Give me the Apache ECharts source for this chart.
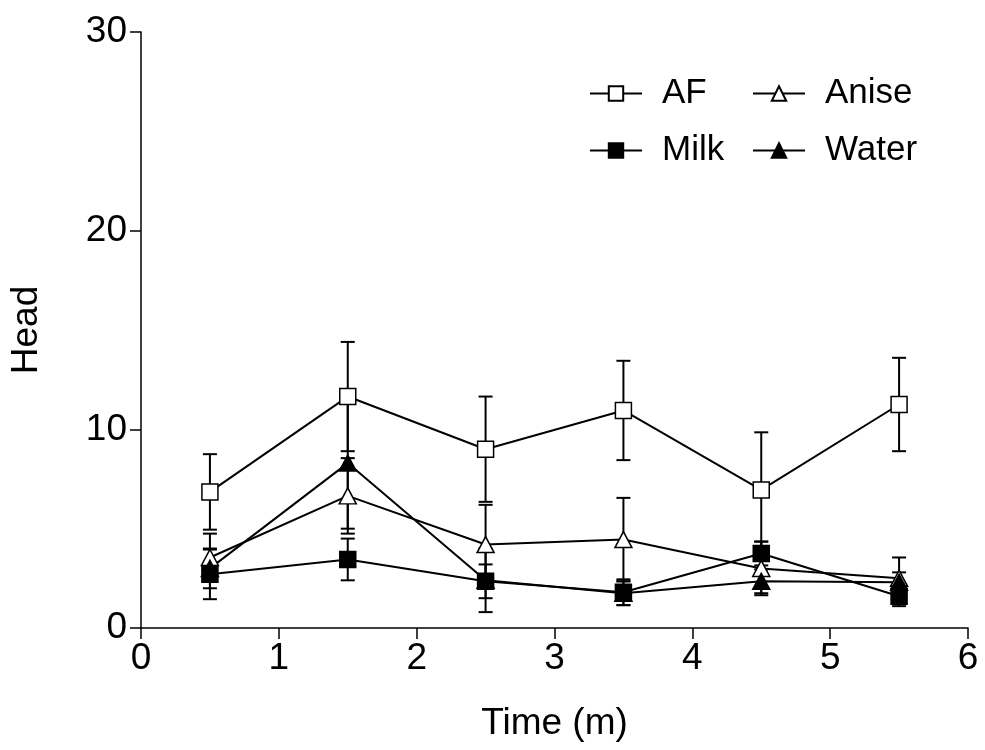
<!DOCTYPE html>
<html>
<head>
<meta charset="utf-8">
<script src="https://cdn.jsdelivr.net/npm/echarts/dist/echarts.min.js"></script>
<style>
  html, body { margin: 0; padding: 0; background: #fff; }
  #main { width: 985px; height: 750px; }
</style>
</head>
<body>
<div id="main"></div>
<script>
// time points (m)
var times = [0.5, 1.5, 2.5, 3.5, 4.5, 5.5];

// means
var afMean    = [6.85, 11.65, 9.0, 10.95, 6.95, 11.25];
var aniseMean = [3.55, 6.65, 4.2, 4.45, 3.0, 2.5];
var milkMean  = [2.7, 3.45, 2.35, 1.8, 3.75, 1.6];
var waterMean = [3.0, 8.3, 2.4, 1.75, 2.35, 2.3];

// error bar half lengths
var afErr    = [1.9, 2.75, 2.65, 2.5, 2.9, 2.35];
var aniseErr = [1.2, 1.9, 2.0, 2.1, 1.35, 1.05];
var milkErr  = [1.25, 1.05, 0.85, 0.65, 0.6, 0.5];
var waterErr = [1.0, 3.3, 1.6, 0.6, 0.6, 0.5];

var xTicks = [0, 1, 2, 3, 4, 5, 6];
var yTicks = [0, 10, 20, 30];

var FONT = 'Liberation Sans';

function pts(mean) {
  return times.map(function (t, i) { return [t, mean[i]]; });
}
function errPts(mean, err) {
  return times.map(function (t, i) { return [t, mean[i], err[i]]; });
}

// draws one vertical error bar with caps
function errorBar(params, api) {
  var x = api.value(0), y = api.value(1), e = api.value(2);
  var top = api.coord([x, y + e]);
  var bot = api.coord([x, y - e]);
  var hw = 7;
  var st = { stroke: '#000', lineWidth: 2 };
  return {
    type: 'group',
    children: [
      { type: 'line', shape: { x1: top[0], y1: top[1], x2: bot[0], y2: bot[1] }, style: st },
      { type: 'line', shape: { x1: top[0] - hw, y1: top[1], x2: top[0] + hw, y2: top[1] }, style: st },
      { type: 'line', shape: { x1: bot[0] - hw, y1: bot[1], x2: bot[0] + hw, y2: bot[1] }, style: st }
    ]
  };
}

function lineSeries(name, mean, symbol, fill, z) {
  return {
    name: name,
    type: 'line',
    data: pts(mean),
    symbol: symbol,
    symbolSize: symbol === 'rect' ? 16 : [17, 16],
    z: z,
    itemStyle: { color: fill, borderColor: '#000', borderWidth: 1.5 },
    lineStyle: { color: '#000', width: 2 },
    emphasis: { disabled: true }
  };
}

function errSeries(mean, err) {
  return {
    type: 'custom',
    renderItem: errorBar,
    data: errPts(mean, err),
    z: 2,
    silent: true
  };
}

var myChart = echarts.init(document.getElementById('main'));

var legendText = { color: '#000', fontFamily: FONT, fontSize: 35, padding: [0, 0, 0, 15] };

var option = {
  animation: false,
  backgroundColor: '#fff',
  grid: { left: 138, right: 17, top: 32, bottom: 122 },
  legend: [
    {
      data: ['AF', 'Milk'],
      orient: 'vertical',
      left: 584, top: 71,
      itemWidth: 52, itemHeight: 18, itemGap: 22,
      textStyle: legendText
    },
    {
      data: ['Anise', 'Water'],
      orient: 'vertical',
      left: 747, top: 71,
      itemWidth: 52, itemHeight: 18, itemGap: 22,
      textStyle: legendText
    }
  ],
  xAxis: {
    type: 'value',
    min: xTicks[0], max: xTicks[xTicks.length - 1], interval: 1,
    name: 'Time (m)',
    nameLocation: 'middle',
    nameGap: 77,
    nameTextStyle: { color: '#000', fontFamily: FONT, fontSize: 37 },
    axisLine: { lineStyle: { color: '#000', width: 1.5 } },
    axisTick: { length: 11, lineStyle: { color: '#000', width: 1.5 } },
    axisLabel: { color: '#000', fontFamily: FONT, fontSize: 37, margin: 12 },
    splitLine: { show: false }
  },
  yAxis: {
    type: 'value',
    min: yTicks[0], max: yTicks[yTicks.length - 1], interval: 10,
    name: 'Head',
    nameLocation: 'middle',
    nameGap: 96,
    nameTextStyle: { color: '#000', fontFamily: FONT, fontSize: 37 },
    axisLine: { show: true, lineStyle: { color: '#000', width: 1.5 } },
    axisTick: { show: true, length: 11, lineStyle: { color: '#000', width: 1.5 } },
    axisLabel: { color: '#000', fontFamily: FONT, fontSize: 37, margin: 14 },
    splitLine: { show: false }
  },
  series: [
    errSeries(afMean, afErr),
    errSeries(aniseMean, aniseErr),
    errSeries(milkMean, milkErr),
    errSeries(waterMean, waterErr),
    lineSeries('AF', afMean, 'rect', '#fff', 3),
    lineSeries('Milk', milkMean, 'rect', '#000', 3),
    lineSeries('Anise', aniseMean, 'triangle', '#fff', 4),
    lineSeries('Water', waterMean, 'triangle', '#000', 4)
  ]
};

myChart.setOption(option);
</script>
</body>
</html>
